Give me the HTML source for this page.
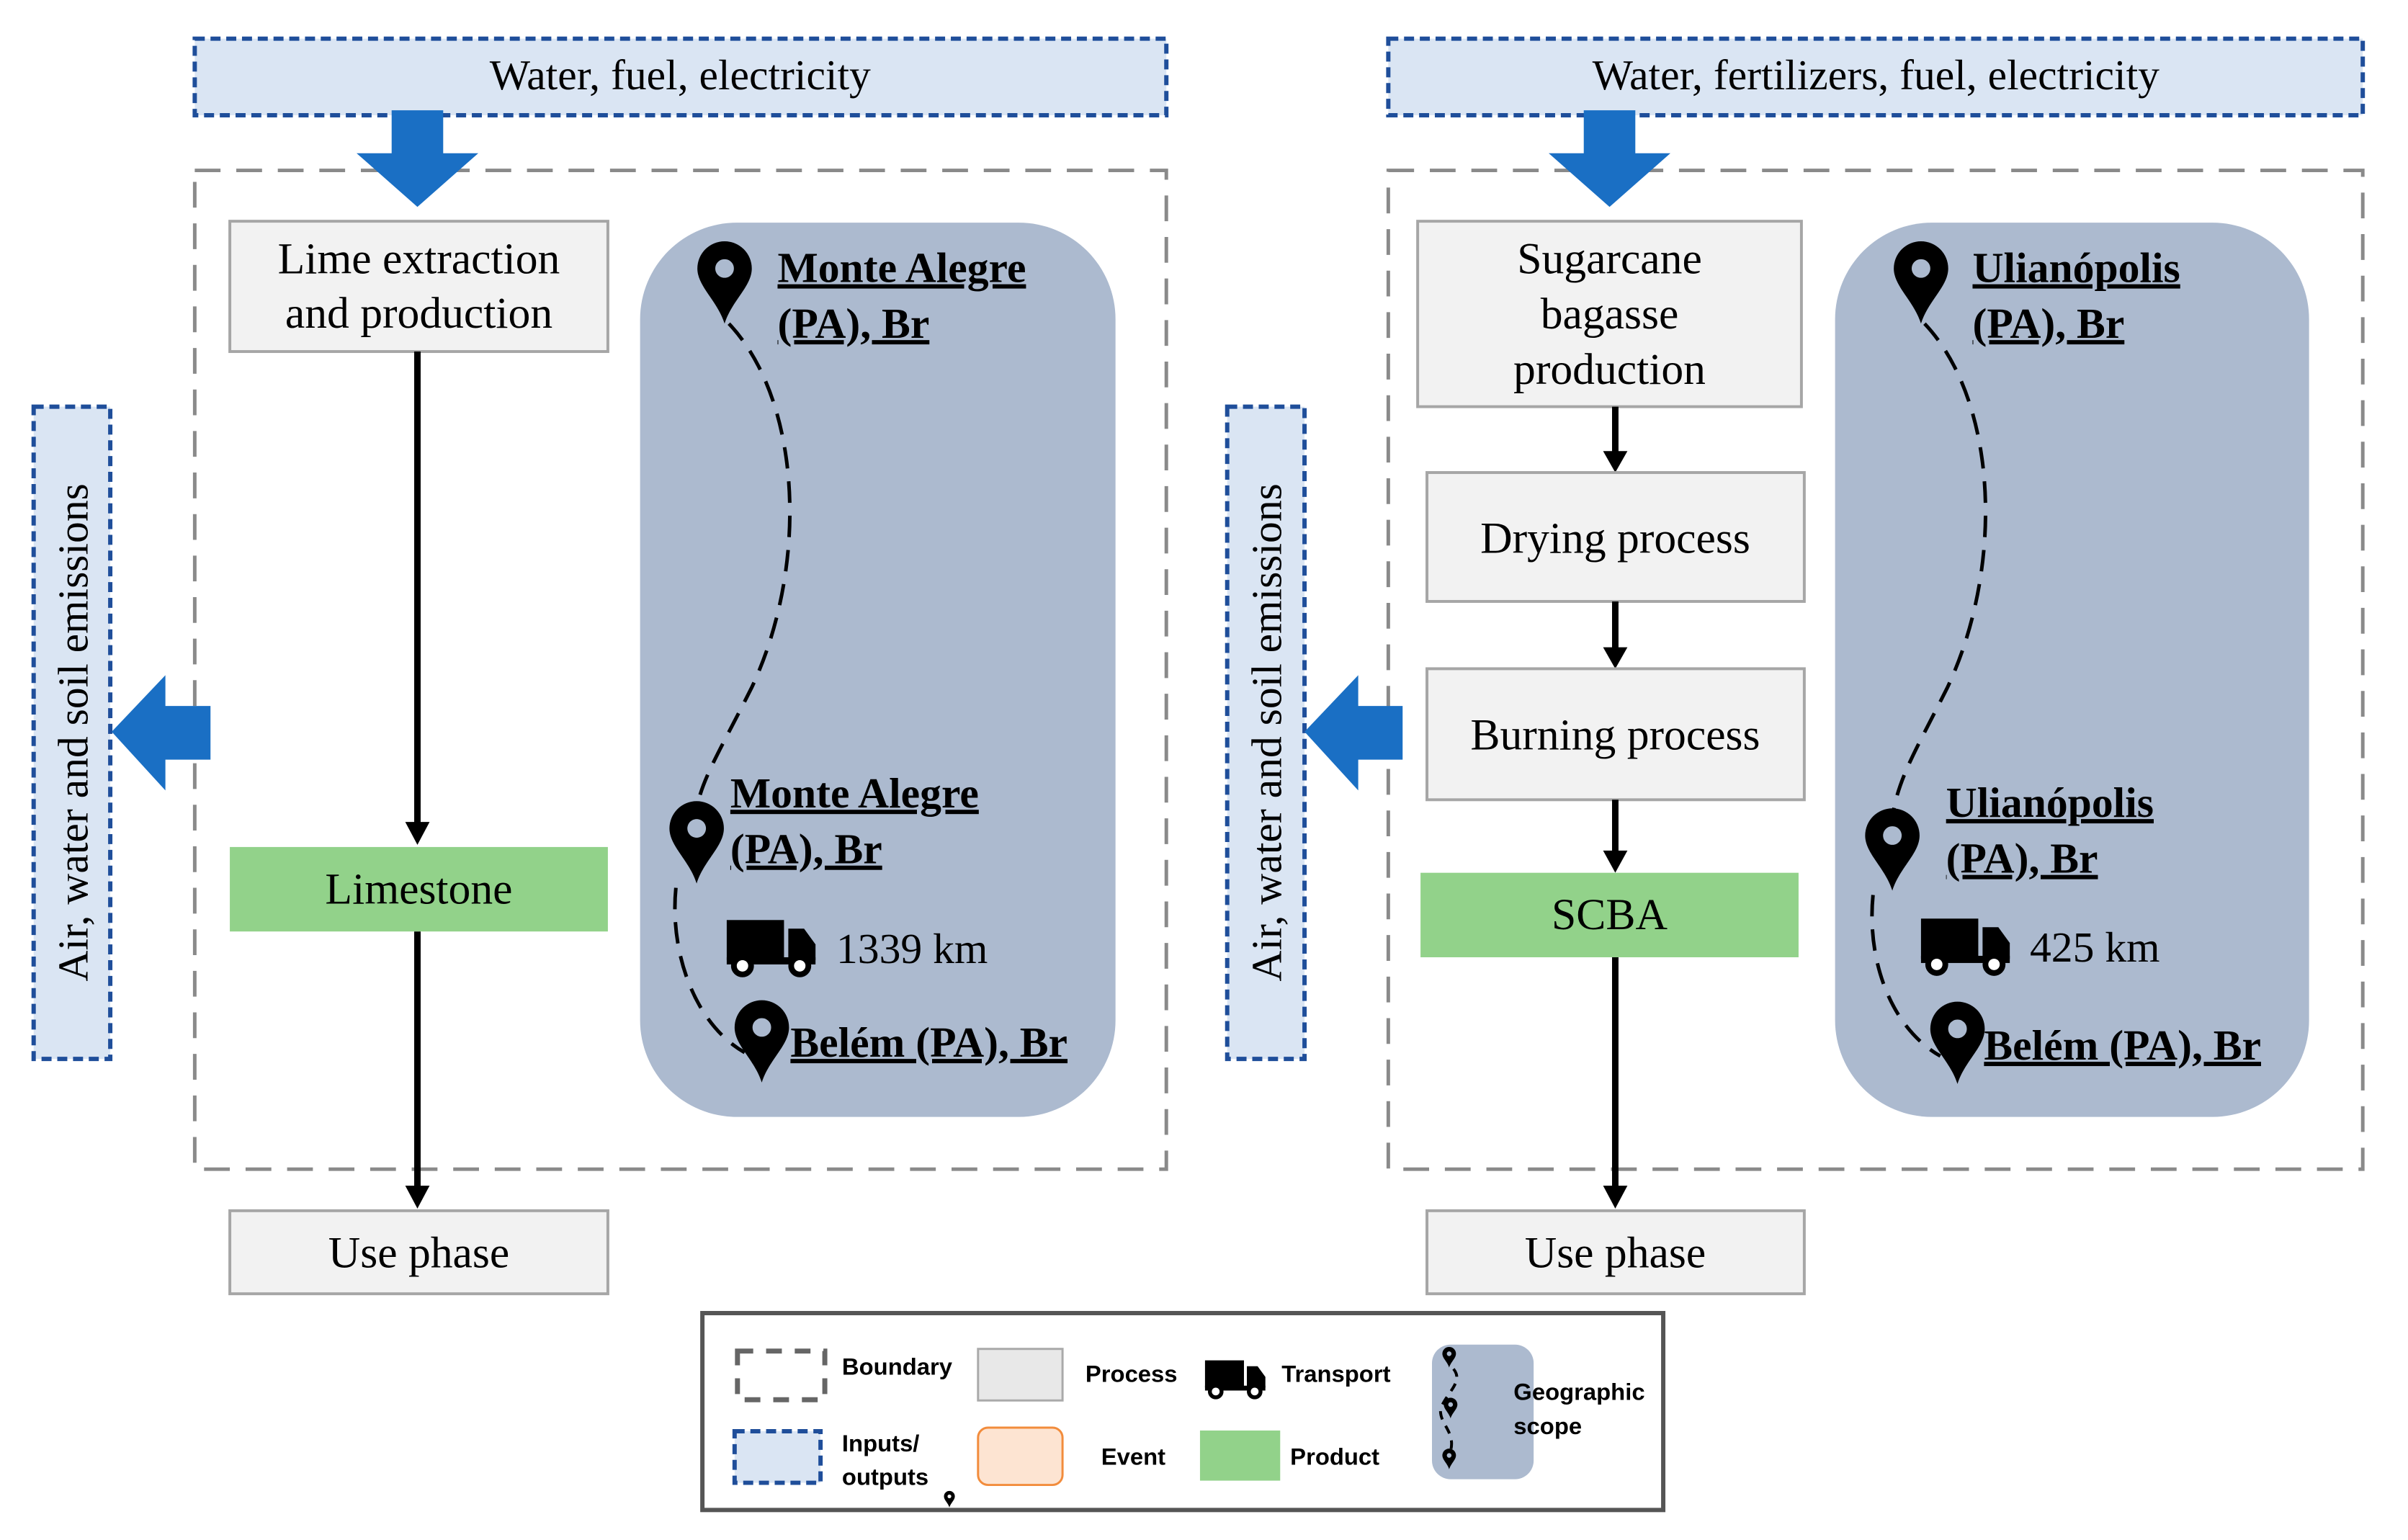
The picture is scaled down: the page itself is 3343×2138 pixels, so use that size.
<!DOCTYPE html>
<html><head><meta charset="utf-8"><style>html,body{margin:0;padding:0;background:#fff}svg{display:block}</style></head>
<body>
<svg width="3343" height="2138" viewBox="0 0 3343 2138" xmlns="http://www.w3.org/2000/svg">
<defs>
<path id="pin" d="M0,112 C-10,80 -38,60 -38,35 A38,38 0 1 1 38,35 C38,60 10,80 0,112 Z M0,22 A13,13 0 1 0 0.01,22 Z" fill-rule="evenodd"/>
<g id="truck">
<rect x="0" y="0" width="80" height="56"/>
<path d="M86,12 L108,12 L124,34 L124,56 L86,56 Z"/>
<rect x="0" y="52" width="124" height="10"/>
<circle cx="22" cy="64" r="12" fill="#fff" stroke="#000" stroke-width="8"/>
<circle cx="102" cy="64" r="12" fill="#fff" stroke="#000" stroke-width="8"/>
</g>
</defs>
<g font-family="Liberation Serif, serif" fill="#000" transform="scale(0.994)">
<!-- LEFT -->
<rect x="272" y="54" width="1357" height="107" fill="#dae5f3" stroke="#1f4e9a" stroke-width="6" stroke-dasharray="14,8"/>
<text x="950" y="125" font-size="60" text-anchor="middle">Water, fuel, electricity</text>
<rect x="272" y="238" width="1357" height="1395" fill="none" stroke="#8a8a8a" stroke-width="5" stroke-dasharray="36,22"/>
<polygon points="547,154 619,154 619,214 668,214 583,289 498,214 547,214" fill="#1a6fc4"/>
<rect x="321" y="309" width="528" height="182" fill="#f2f2f2" stroke="#a6a6a6" stroke-width="4"/>
<text x="585" y="382" font-size="62" text-anchor="middle">Lime extraction</text>
<text x="585" y="458" font-size="62" text-anchor="middle">and production</text>
<line x1="583" y1="491" x2="583" y2="1150" stroke="#000" stroke-width="9"/>
<polygon points="566,1148 600,1148 583,1180" fill="#000"/>
<rect x="321" y="1183" width="528" height="118" fill="#92d28a"/>
<text x="585" y="1262" font-size="62" text-anchor="middle">Limestone</text>
<line x1="583" y1="1301" x2="583" y2="1658" stroke="#000" stroke-width="9"/>
<polygon points="566,1656 600,1656 583,1688" fill="#000"/>
<rect x="321" y="1691" width="528" height="116" fill="#f2f2f2" stroke="#a6a6a6" stroke-width="4"/>
<text x="585" y="1770" font-size="62" text-anchor="middle">Use phase</text>
<rect x="894" y="311" width="664" height="1249" rx="135" fill="#acbacf"/>
<path d="M1018,452 C1120,560 1130,790 1050,960 C1010,1040 985,1080 975,1120" fill="none" stroke="#000" stroke-width="5" stroke-dasharray="30,18"/>
<path d="M944,1240 C935,1330 970,1430 1040,1470" fill="none" stroke="#000" stroke-width="5" stroke-dasharray="30,18"/>
<use href="#pin" x="1012" y="340"/>
<use href="#pin" x="973" y="1122"/>
<use href="#pin" x="1064" y="1400"/>
<g font-weight="bold" font-size="60" text-decoration="underline">
<text x="1086" y="394">Monte Alegre</text>
<text x="1086" y="472">(PA), Br</text>
<text x="1020" y="1128">Monte Alegre</text>
<text x="1020" y="1206">(PA), Br</text>
<text x="1104" y="1476">Belém (PA), Br</text>
</g>
<use href="#truck" x="1015" y="1285"/>
<text x="1168" y="1345" font-size="60">1339 km</text>
<rect x="47" y="568" width="107" height="911" fill="#dae5f3" stroke="#1f4e9a" stroke-width="6" stroke-dasharray="14,8"/>
<text transform="translate(122,1023) rotate(-90)" font-size="60" text-anchor="middle">Air, water and soil emissions</text>
<polygon points="156,1022 231,943 231,986 294,986 294,1061 231,1061 231,1104" fill="#1a6fc4"/>

<!-- RIGHT -->
<rect x="1939" y="54" width="1361" height="107" fill="#dae5f3" stroke="#1f4e9a" stroke-width="6" stroke-dasharray="14,8"/>
<text x="2620" y="125" font-size="60" text-anchor="middle">Water, fertilizers,  fuel, electricity</text>
<rect x="1939" y="238" width="1361" height="1395" fill="none" stroke="#8a8a8a" stroke-width="5" stroke-dasharray="36,22"/>
<polygon points="2212,154 2284,154 2284,214 2333,214 2248,289 2163,214 2212,214" fill="#1a6fc4"/>
<rect x="1980" y="309" width="536" height="259" fill="#f2f2f2" stroke="#a6a6a6" stroke-width="4"/>
<text x="2248" y="382" font-size="62" text-anchor="middle">Sugarcane</text>
<text x="2248" y="459" font-size="62" text-anchor="middle">bagasse</text>
<text x="2248" y="536" font-size="62" text-anchor="middle">production</text>
<line x1="2256" y1="568" x2="2256" y2="632" stroke="#000" stroke-width="9"/>
<polygon points="2239,630 2273,630 2256,660" fill="#000"/>
<rect x="1993" y="660" width="527" height="180" fill="#f2f2f2" stroke="#a6a6a6" stroke-width="4"/>
<text x="2256" y="772" font-size="62" text-anchor="middle">Drying process</text>
<line x1="2256" y1="840" x2="2256" y2="906" stroke="#000" stroke-width="9"/>
<polygon points="2239,904 2273,904 2256,934" fill="#000"/>
<rect x="1993" y="934" width="527" height="183" fill="#f2f2f2" stroke="#a6a6a6" stroke-width="4"/>
<text x="2256" y="1047" font-size="62" text-anchor="middle">Burning process</text>
<line x1="2256" y1="1117" x2="2256" y2="1190" stroke="#000" stroke-width="9"/>
<polygon points="2239,1188 2273,1188 2256,1219" fill="#000"/>
<rect x="1984" y="1219" width="528" height="118" fill="#92d28a"/>
<text x="2248" y="1298" font-size="62" text-anchor="middle">SCBA</text>
<line x1="2256" y1="1337" x2="2256" y2="1658" stroke="#000" stroke-width="9"/>
<polygon points="2239,1656 2273,1656 2256,1688" fill="#000"/>
<rect x="1993" y="1691" width="527" height="116" fill="#f2f2f2" stroke="#a6a6a6" stroke-width="4"/>
<text x="2256" y="1770" font-size="62" text-anchor="middle">Use phase</text>
<rect x="2563" y="311" width="662" height="1249" rx="135" fill="#acbacf"/>
<path d="M2688,452 C2790,560 2800,790 2720,960 C2680,1040 2655,1080 2645,1130" fill="none" stroke="#000" stroke-width="5" stroke-dasharray="30,18"/>
<path d="M2616,1250 C2607,1340 2640,1435 2710,1475" fill="none" stroke="#000" stroke-width="5" stroke-dasharray="30,18"/>
<use href="#pin" x="2683" y="340"/>
<use href="#pin" x="2643" y="1132"/>
<use href="#pin" x="2734" y="1402"/>
<g font-weight="bold" font-size="60" text-decoration="underline">
<text x="2755" y="394">Ulianópolis</text>
<text x="2755" y="472">(PA), Br</text>
<text x="2718" y="1141">Ulianópolis</text>
<text x="2718" y="1219">(PA), Br</text>
<text x="2771" y="1480">Belém (PA), Br</text>
</g>
<use href="#truck" x="2683" y="1283"/>
<text x="2835" y="1343" font-size="60">425 km</text>
<rect x="1714" y="568" width="108" height="911" fill="#dae5f3" stroke="#1f4e9a" stroke-width="6" stroke-dasharray="14,8"/>
<text transform="translate(1789,1023) rotate(-90)" font-size="60" text-anchor="middle">Air, water and soil emissions</text>
<polygon points="1822,1022 1897,943 1897,986 1959,986 1959,1061 1897,1061 1897,1104" fill="#1a6fc4"/>

<!-- LEGEND -->
<rect x="981" y="1834" width="1342" height="275" fill="#fff" stroke="#555" stroke-width="6"/>
<rect x="1030" y="1887" width="122" height="68" fill="none" stroke="#666" stroke-width="7" stroke-dasharray="22,18"/>
<rect x="1366" y="1884" width="118" height="72" fill="#e8e8e8" stroke="#aaa" stroke-width="3"/>
<rect x="1026" y="1999" width="120" height="72" fill="#dae5f3" stroke="#1f4e9a" stroke-width="6" stroke-dasharray="14,8"/>
<rect x="1366" y="1994" width="118" height="80" rx="14" fill="#fde4d2" stroke="#f28c3c" stroke-width="3"/>
<rect x="1676" y="1998" width="112" height="70" fill="#92d28a"/>
<rect x="2000" y="1878" width="142" height="188" rx="26" fill="#acbacf"/>
<g transform="translate(1683,1900) scale(0.68)"><use href="#truck"/></g>
<use href="#pin" transform="translate(2024,1882) scale(0.25)"/>
<use href="#pin" transform="translate(2026,1953) scale(0.25)"/>
<use href="#pin" transform="translate(2024,2024) scale(0.25)"/>
<use href="#pin" transform="translate(1326,2083) scale(0.2)"/>
<path d="M2030,1912 C2045,1930 2020,1945 2012,1968 C2010,1990 2035,2000 2025,2030" fill="none" stroke="#000" stroke-width="4" stroke-dasharray="12,10"/>
<g font-family="Liberation Sans, sans-serif" font-size="33" font-weight="bold">
<text x="1176" y="1920">Boundary</text>
<text x="1516" y="1930">Process</text>
<text x="1790" y="1930">Transport</text>
<text x="2114" y="1955">Geographic</text>
<text x="2114" y="2003">scope</text>
<text x="1176" y="2027">Inputs/</text>
<text x="1176" y="2074">outputs</text>
<text x="1538" y="2046">Event</text>
<text x="1802" y="2046">Product</text>
</g>
</g>
</svg>
</body></html>
